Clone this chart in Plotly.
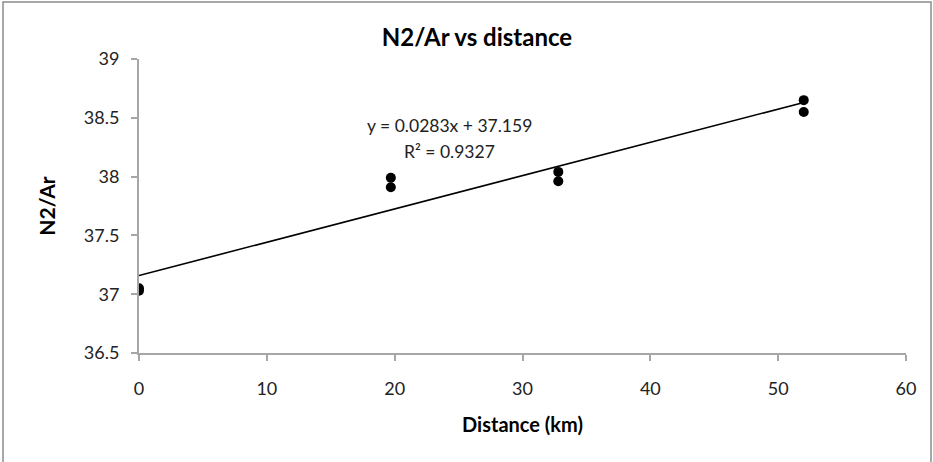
import plotly.graph_objects as go

distance_km = [0, 0, 19.7, 19.7, 32.8, 32.8, 52.0, 52.0]
n2_ar = [37.05, 37.03, 37.99, 37.91, 38.04, 37.96, 38.65, 38.55]
slope = 0.0283
intercept = 37.159
r2 = 0.9327
x_ticks = [0, 10, 20, 30, 40, 50, 60]
y_ticks = [36.5, 37, 37.5, 38, 38.5, 39]

W, H = 933, 462
L, R, T, B = 139, 27, 59, 109

trend_x = [min(distance_km), max(distance_km)]
trend_y = [slope * v + intercept for v in trend_x]

fig = go.Figure()
fig.add_trace(go.Scatter(x=trend_x, y=trend_y, mode="lines",
                         line=dict(color="black", width=1.6), showlegend=False,
                         hoverinfo="skip"))
fig.add_trace(go.Scatter(x=distance_km, y=n2_ar, mode="markers",
                         marker=dict(color="black", size=10), showlegend=False))

font = "Lato, Carlito, Calibri, sans-serif"
axis_common = dict(showgrid=False, zeroline=False, showline=True,
                   linecolor="#a6a6a6", linewidth=2, ticks="outside",
                   tickcolor="#a6a6a6", ticklen=6, tickwidth=2,
                   tickfont=dict(family=font, size=18, color="#222"))

fig.update_layout(
    width=W, height=H,
    margin=dict(l=L, r=R, t=T, b=B),
    paper_bgcolor="white", plot_bgcolor="white",
    title=dict(text="<b>N2/Ar vs distance</b>", x=477 / W,
               xanchor="center", y=1 - 38 / H, yanchor="middle",
               font=dict(family=font, size=24, color="black")),
    xaxis=dict(range=[0, 60], tickvals=x_ticks, **axis_common,
               ticklabelstandoff=12,
               title=dict(text="<b>Distance (km)</b>", standoff=20,
                          font=dict(family=font, size=20, color="black"))),
    yaxis=dict(range=[36.5, 39], tickvals=y_ticks, **axis_common,
               ticklabelstandoff=8,
               title=dict(text="<b>N2/Ar</b>", standoff=22,
                          font=dict(family=font, size=21, color="black"))),
    annotations=[
        dict(xref="paper", yref="paper", x=(449 - L) / (W - L - R),
             y=1 - (125 - T) / (H - T - B), xanchor="center", yanchor="middle",
             text=f"y = {slope}x + {intercept}", showarrow=False,
             font=dict(family=font, size=17.5, color="#222")),
        dict(xref="paper", yref="paper", x=(449 - L) / (W - L - R),
             y=1 - (151 - T) / (H - T - B), xanchor="center", yanchor="middle",
             text=f"R² = {r2}", showarrow=False,
             font=dict(family=font, size=17.5, color="#222")),
    ],
    shapes=[dict(type="rect", xref="paper", yref="paper",
                 x0=(3 - L) / (W - L - R), x1=(931 - L) / (W - L - R),
                 y0=1 - (470 - T) / (H - T - B), y1=1 + (T - 2) / (H - T - B),
                 line=dict(color="#8c8c8c", width=1.5), layer="below")],
)

fig.write_html("out.html")
